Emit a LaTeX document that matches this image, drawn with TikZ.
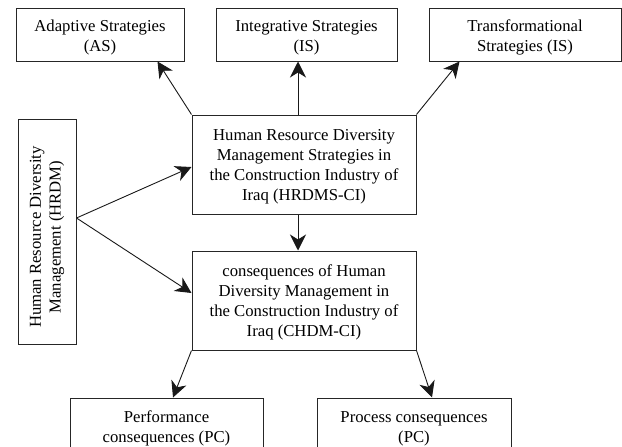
\documentclass[tikz,border=0pt]{standalone}
\usepackage{fontspec}
\setmainfont{Liberation Serif}
\usetikzlibrary{arrows.meta,calc}
\newcommand{\dropby}[1]{\rule{0pt}{#1}}
\begin{document}
\begin{tikzpicture}[x=1pt,y=-1pt,
  box/.style={draw=black!85,line width=1pt,align=center,inner sep=0pt,
    font=\fontsize{16.7}{19.8}\selectfont},
  conn/.style={draw=black!90,line width=0.9pt,-{Stealth[length=16pt,width=16pt,inset=5pt]}}]
\useasboundingbox (0,0) rectangle (622,447);
\clip (0,0) rectangle (622,447);
% top boxes
\node[box,minimum width=168pt,minimum height=53pt] (as) at (100,34.5) {\dropby{17.5pt}Adaptive Strategies\\[1pt](AS)};
\node[box,minimum width=181pt,minimum height=53pt] (is) at (306.5,34.5) {\dropby{17.5pt}Integrative Strategies\\[1pt](IS)};
\node[box,minimum width=192pt,minimum height=53pt] (ts) at (525,34.5) {\dropby{17.5pt}Transformational\\[1pt]Strategies (IS)};
% middle
\node[box,minimum width=224pt,minimum height=99pt] (hrdms) at (304,164.5) {\dropby{15.5pt}Human Resource Diversity\\Management Strategies in\\the Construction Industry of\\Iraq (HRDMS-CI)};
\node[box,minimum width=224pt,minimum height=99pt] (chdm) at (304,300.5) {\dropby{15.5pt}consequences of Human\\Diversity Management in\\the Construction Industry of\\Iraq (CHDM-CI)};
\node[box,minimum width=225pt,minimum height=58pt,rotate=90] (hrdm) at (47,231.5) {Human Resource Diversity\hspace*{11pt}\\Management (HRDM)\hspace*{11pt}};
% bottom
\node[box,minimum width=193pt,minimum height=57pt] (pc) at (166.5,426.5) {\dropby{15.5pt}Performance\\consequences (PC)};
\node[box,minimum width=194pt,minimum height=57pt] (prc) at (414,426.5) {\dropby{15.5pt}Process consequences\\(PC)};
% connectors
\draw[conn] (hrdms.north west) -- ($(as.south east)+(-27,0)$);
\draw[conn] ($(hrdms.north)+(-6,0)$) -- ($(is.south)+(-8.5,0)$);
\draw[conn] (hrdms.north east) -- ($(ts.south west)+(31,0)$);
\draw[conn] ($(hrdm.south)+(0,-13.5)$) -- ($(hrdms.west)+(0,2.5)$);
\draw[conn] ($(hrdm.south)+(0,-13.5)$) -- ($(chdm.west)+(0,-7.5)$);
\draw[conn] ($(hrdms.south)+(-6,0)$) -- ($(chdm.north)+(-6,0)$);
\draw[conn] (chdm.south west) -- ($(pc.north)+(6.5,0)$);
\draw[conn] (chdm.south east) -- ($(prc.north)+(18,0)$);
\end{tikzpicture}
\end{document}
